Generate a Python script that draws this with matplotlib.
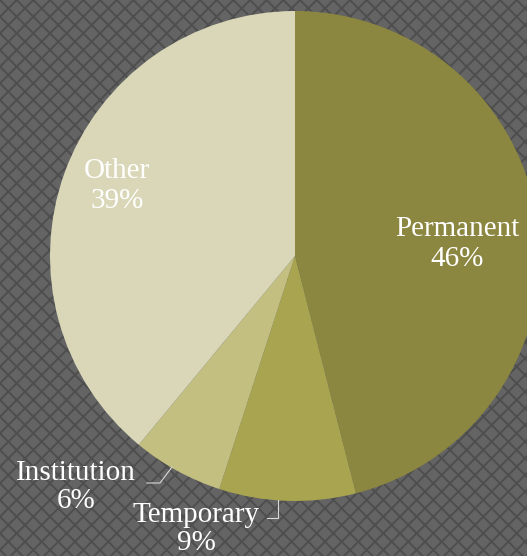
import matplotlib
matplotlib.use("Agg")
import matplotlib.pyplot as plt
from matplotlib.patches import Rectangle

# data
categories = ["Permanent", "Temporary", "Institution", "Other"]
shares = [46, 9, 6, 39]
colors = ["#8b8640", "#a8a450", "#c2bf80", "#d9d7b8"]

plt.rcParams["hatch.linewidth"] = 1.4
plt.rcParams["hatch.color"] = "#4e4e4e"

fig = plt.figure(figsize=(5.27, 5.56), dpi=100)
fig.patch.set_facecolor("#646464")
ax = fig.add_axes([0, 0, 1, 1])

# patterned backdrop
ax.add_patch(Rectangle((0, 0), 527, 556, facecolor="#646464",
                       edgecolor="#4e4e4e", hatch="xx", lw=0, zorder=0))

cx, cy, r = 295, 300, 245
wedges, _ = ax.pie(shares, colors=colors, startangle=90, counterclock=False,
                   center=(cx, cy), radius=r, frame=True,
                   wedgeprops=dict(edgecolor="none"))
for w in wedges:
    w.set_zorder(2)
ax.set_xlim(0, 527)
ax.set_ylim(0, 556)
ax.set_aspect("equal")
ax.axis("off")

font = dict(family="Liberation Serif", fontsize=21, color="white",
            ha="center", va="center", linespacing=1.15, zorder=5)

labels = [f"{c}\n{s}%" for c, s in zip(categories, shares)]
ax.text(457, 312, labels[0], **font)
ax.text(196, 27, labels[1], **font)
ax.text(76, 69, labels[2], **font)
ax.text(117, 370, labels[3], **font)

# leader lines
ax.plot([147, 160, 172], [73, 73, 89], color="#d8d8d8", lw=0.8, zorder=4)
ax.plot([267, 278, 278], [38, 38, 56], color="#d8d8d8", lw=0.8, zorder=4)

fig.savefig("out.png", dpi=100, facecolor=fig.get_facecolor())
